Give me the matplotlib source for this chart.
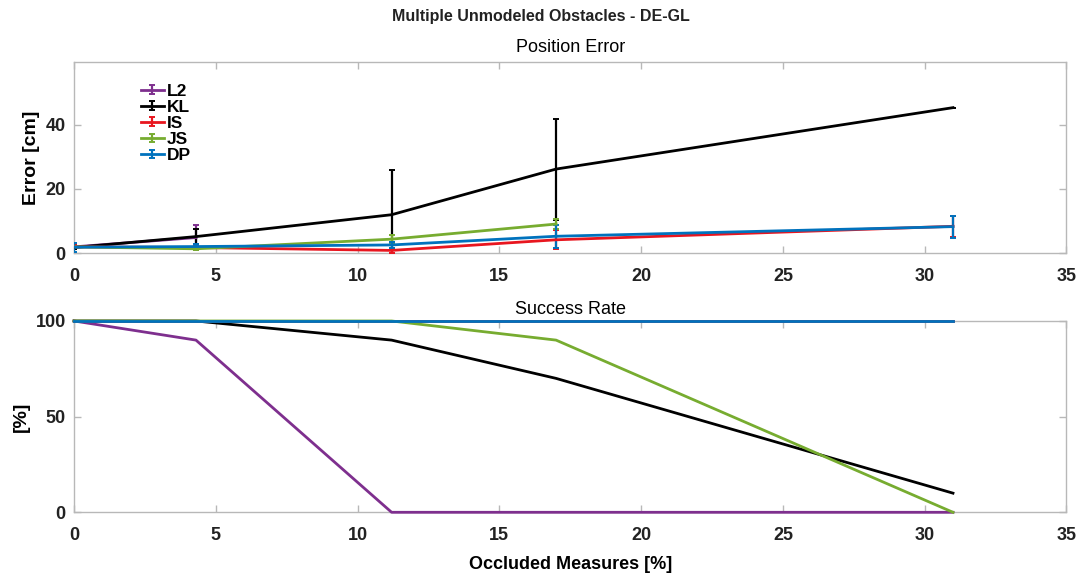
import matplotlib.pyplot as plt
import numpy as np
from matplotlib.container import ErrorbarContainer
from matplotlib.legend_handler import HandlerErrorbar

plt.rcParams['font.family'] = ['Liberation Sans', 'DejaVu Sans']

# occluded measures [%]
occluded = [0, 4.3, 11.2, 17.0, 31.0]
methods = ['L2', 'KL', 'IS', 'JS', 'DP']
colors = ['#7E2F8E', '#000000', '#E8161F', '#77AC30', '#0072BD']

nan = np.nan
# position error mean / std [cm]
err_l2 = [2.0, 4.9, nan, nan, nan]
std_l2 = [0.6, 3.9, nan, nan, nan]
err_kl = [1.8, 5.2, 12.0, 26.2, 45.3]
std_kl = [0.5, 2.4, 13.9, 15.7, 0.0]
err_is = [2.0, 1.8, 0.9, 4.2, 8.4]
std_is = [0.5, 0.6, 0.8, 2.9, 3.3]
err_js = [2.0, 1.4, 4.4, 9.1, nan]
std_js = [0.4, 0.5, 1.3, 1.5, nan]
err_dp = [1.9, 2.1, 2.6, 5.3, 8.3]
std_dp = [1.4, 0.8, 0.9, 3.5, 3.4]

# success rate [%]
succ_l2 = [100, 90, 0, 0, 0]
succ_kl = [100, 100, 90, 70, 10]
succ_is = [100, 100, 100, 100, 100]
succ_js = [100, 100, 100, 90, 0]
succ_dp = [100, 100, 100, 100, 100]

errs = [err_l2, err_kl, err_is, err_js, err_dp]
stds = [std_l2, std_kl, std_is, std_js, std_dp]
succs = [succ_l2, succ_kl, succ_is, succ_js, succ_dp]

grey = '#b8b8b8'
tick_fs = 13

fig = plt.figure(figsize=(10.81, 5.74), dpi=100)
ax1 = fig.add_axes([0.0685, 0.5587, 0.918, 0.3333])
ax2 = fig.add_axes([0.0685, 0.1075, 0.918, 0.3333])

for name, c, m, s in zip(methods, colors, errs, stds):
    ax1.errorbar(occluded, m, yerr=s, color=c, lw=2.0, elinewidth=1.6,
                 capsize=2.5, capthick=1.4, label=name, zorder=3)

for name, c, v in zip(methods, colors, succs):
    ax2.plot(occluded, v, color=c, lw=2.0, clip_on=False, zorder=3)

for ax in (ax1, ax2):
    ax.set_xlim(0, 35)
    ax.set_xticks(range(0, 36, 5))
    for sp in ax.spines.values():
        sp.set_color(grey)
        sp.set_linewidth(1.0)
    ax.tick_params(direction='in', colors=grey, labelcolor='#222222',
                   length=5, width=1.0, top=True, right=True,
                   labelsize=tick_fs)
    ax.tick_params(axis='x', pad=10.5)
    ax.tick_params(axis='y', pad=6)

ax1.set_ylim(0, 59.5)
ax1.set_yticks([0, 20, 40])
ax1.set_ylabel('Error [cm]', fontsize=14, fontweight='bold', labelpad=4)
ax1.set_title('Position Error', fontsize=13, pad=7)

ax2.set_ylim(0, 100)
ax2.set_yticks([0, 50, 100])
ax2.set_ylabel('[%]', fontsize=14, fontweight='bold', labelpad=4)
ax2.set_xlabel('Occluded Measures [%]', fontsize=13, fontweight='bold', labelpad=9)
ax2.set_title('Success Rate', fontsize=13, pad=5)

for ax in (ax1, ax2):
    for lab in ax.get_xticklabels() + ax.get_yticklabels():
        lab.set_fontweight('bold')

ax1.legend(loc='upper left', bbox_to_anchor=(0.055, 0.95), frameon=False,
           handlelength=1.35, handletextpad=0.15, labelspacing=0.05,
           borderpad=0.2, prop={'weight': 'bold', 'size': 12.5},
           handler_map={ErrorbarContainer: HandlerErrorbar(xerr_size=0.4, yerr_size=0.25)})

fig.suptitle('Multiple Unmodeled Obstacles - DE-GL', fontsize=11.5,
             fontweight='bold', y=0.972, va='center', color='#222222')

fig.savefig('out.png', dpi=100)
